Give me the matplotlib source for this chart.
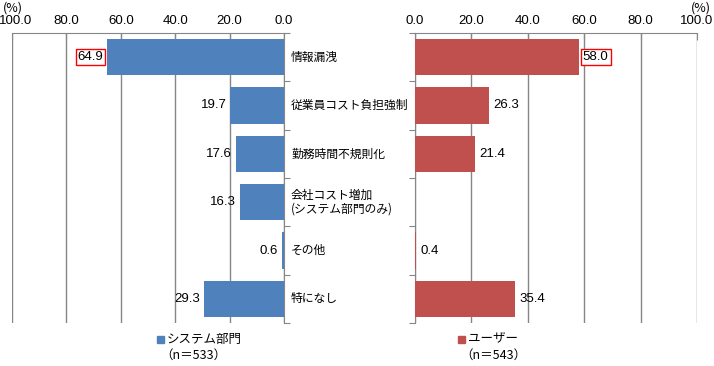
import numpy as np
import matplotlib
matplotlib.use('Agg')
import matplotlib.pyplot as plt
import matplotlib.transforms as mtransforms

plt.rcParams['font.family'] = ['Noto Sans CJK JP', 'DejaVu Sans']
num_font = 'Liberation Sans'

# data
categories = ['情報漏洩', '従業員コスト負担強制', '勤務時間不規則化',
              '会社コスト増加\n(システム部門のみ)', 'その他', '特になし']
system_vals = [64.9, 19.7, 17.6, 16.3, 0.6, 29.3]
user_vals = [58.0, 26.3, 21.4, 0.0, 0.4, 35.4]
user_labels = ['58.0', '26.3', '21.4', '', '0.4', '35.4']
ticks = [0, 20, 40, 60, 80, 100]

blue = '#4F81BD'
red = '#C0504D'
grid_c = '#868686'

fig = plt.figure(figsize=(7.14, 3.66), dpi=100)
W, H = 714, 366
top, bot = 33, 323
axL = fig.add_axes([12 / W, 1 - bot / H, (284 - 12) / W, (bot - top) / H])
axR = fig.add_axes([415 / W, 1 - bot / H, (697 - 415) / W, (bot - top) / H])

y = np.arange(len(categories))

for ax, vals, col in [(axL, system_vals, blue), (axR, user_vals, red)]:
    ax.barh(y, vals, height=0.75, color=col, zorder=3)
    ax.set_xlim(0, 100)
    ax.set_ylim(len(categories) - 0.5, -0.5)
    ax.set_xticks(ticks)
    ax.set_xticklabels(['%.1f' % t for t in ticks], fontsize=9.5, family=num_font)
    ax.xaxis.tick_top()
    ax.tick_params(axis='x', direction='in', length=5, color=grid_c, pad=4)
    ax.set_yticks(np.arange(len(categories) + 1) - 0.5)
    ax.set_yticklabels([])
    ax.tick_params(axis='y', length=4, color=grid_c)
    ax.grid(axis='x', color=grid_c, linewidth=1, zorder=0)
    for s in ax.spines.values():
        s.set_visible(False)
    ax.spines['top'].set_visible(True)
    ax.spines['top'].set_color(grid_c)

axL.invert_xaxis()
axL.yaxis.tick_right()
axL.tick_params(axis='y', direction='out')
axL.spines['right'].set_visible(True)
axL.spines['right'].set_color(grid_c)
axR.tick_params(axis='y', direction='out')
axR.spines['left'].set_visible(True)
axR.spines['left'].set_color(grid_c)

# nudge the leftmost "100.0" so it stays inside the figure
lab100 = axL.get_xticklabels()[-1]
lab100.set_transform(lab100.get_transform() +
                     mtransforms.ScaledTranslation(4 / 100, 0, fig.dpi_scale_trans))

# value labels
for i, v in enumerate(system_vals):
    box = dict(boxstyle='square,pad=0.15', fc='white', ec='red', lw=1) if i == 0 else None
    axL.text(v + 1.5, i, '%.1f' % v, ha='right', va='center', fontsize=9.5,
             family=num_font, bbox=box)
for i, (v, lab) in enumerate(zip(user_vals, user_labels)):
    box = dict(boxstyle='square,pad=0.15', fc='white', ec='red', lw=1) if i == 0 else None
    axR.text(v + 1.5, i, lab, ha='left', va='center', fontsize=9.5,
             family=num_font, bbox=box)

# category labels
for i, c in enumerate(categories):
    fig.text(291 / W, 1 - (top + (i + 0.5) * (bot - top) / 6) / H, c,
             ha='left', va='center', fontsize=8.5, linespacing=1.1)

fig.text(3 / W, 1 - 8 / H, '(%)', fontsize=9, va='center')
fig.text(711 / W, 1 - 8 / H, '(%)', fontsize=9, va='center', ha='right')

# legend
fig.patches.append(plt.Rectangle((157 / W, 1 - 343 / H), 7 / W, 7 / H,
                                 transform=fig.transFigure, color=blue))
fig.text(167 / W, 1 - 339 / H, 'システム部門', fontsize=9, va='center')
fig.text(160 / W, 1 - 355 / H, '（n＝533）', fontsize=9, va='center')
fig.patches.append(plt.Rectangle((458 / W, 1 - 343 / H), 7 / W, 7 / H,
                                 transform=fig.transFigure, color=red))
fig.text(468 / W, 1 - 339 / H, 'ユーザー', fontsize=9, va='center')
fig.text(460 / W, 1 - 355 / H, '（n＝543）', fontsize=9, va='center')

fig.savefig('out.png', dpi=100)
